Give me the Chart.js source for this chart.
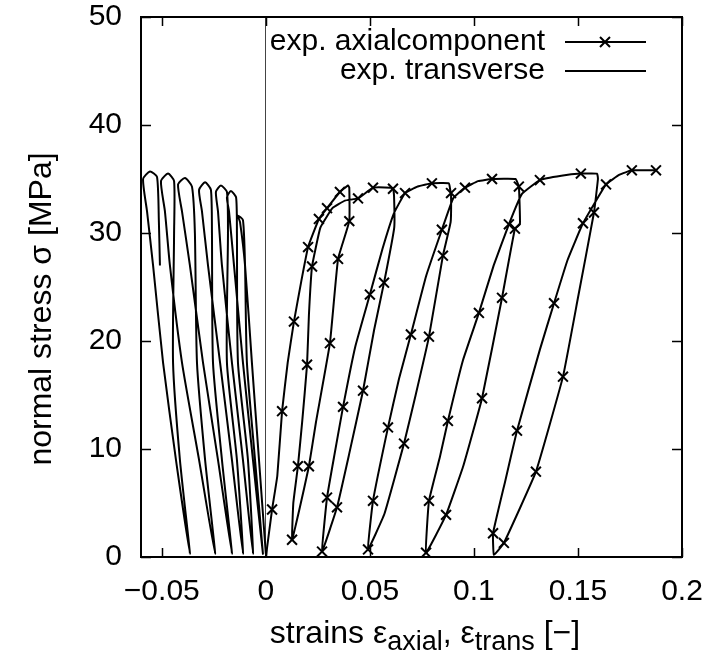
<!DOCTYPE html>
<html>
<head>
<meta charset="utf-8">
<script src="https://cdn.jsdelivr.net/npm/chart.js@4.4.1/dist/chart.umd.min.js"></script>
<style>
  body { margin: 0; background: #fff; }
  #stressChart { display: block; }
</style>
</head>
<body>
<canvas id="stressChart" width="721" height="650"></canvas>
<script>
// axis ticks
const xTicks = [-0.05, 0, 0.05, 0.1, 0.15, 0.2];
const xTickLabels = ['\u22120.05', '0', '0.05', '0.1', '0.15', '0.2'];
const yTicks = [0, 10, 20, 30, 40, 50];
const yTickLabels = ['0', '10', '20', '30', '40', '50'];

// transverse strain loops
const transStrain = [
    0.0000, -0.0033, -0.0067, -0.0100, -0.0124, -0.0134, -0.0110,
    -0.0100, -0.0091, -0.0052, -0.0014,
    -0.0062, -0.0110, -0.0153, -0.0177, -0.0187, -0.0168, -0.0143,
    -0.0139, -0.0134, -0.0086, -0.0062,
    -0.0110, -0.0163, -0.0211, -0.0230, -0.0240, -0.0216, -0.0187,
    -0.0182, -0.0187, -0.0139, -0.0110,
    -0.0163, -0.0220, -0.0278, -0.0307, -0.0321, -0.0292, -0.0264,
    -0.0259, -0.0254, -0.0211, -0.0163,
    -0.0230, -0.0302, -0.0365, -0.0403, -0.0422, -0.0389, -0.0355,
    -0.0341, -0.0331, -0.0292, -0.0244,
    -0.0321, -0.0403, -0.0461, -0.0485, -0.0504, -0.0470, -0.0441,
    -0.0441, -0.0446, -0.0413, -0.0365,
    -0.0432, -0.0494, -0.0542, -0.0571, -0.0590, -0.0557, -0.0523, -0.0514, -0.0509
];
const transStress = [
    0.3, 9.0, 18.0, 27.0, 31.0, 31.6, 31.2,
    27.0, 18.0, 9.0, 0.3,
    9.0, 18.0, 27.0, 32.0, 33.3, 33.9, 33.3,
    30.0, 18.0, 9.0, 0.3,
    9.0, 18.0, 27.0, 32.0, 33.8, 34.4, 33.8,
    30.0, 18.0, 9.0, 0.3,
    9.0, 18.0, 27.0, 32.0, 34.0, 34.7, 34.0,
    30.0, 18.0, 9.0, 0.3,
    9.0, 18.0, 27.0, 32.0, 34.5, 35.1, 34.3,
    30.0, 18.0, 9.0, 0.3,
    9.0, 18.0, 27.0, 32.0, 34.8, 35.5, 34.8,
    30.0, 18.0, 9.0, 0.3,
    9.0, 18.0, 27.0, 32.0, 35.0, 35.7, 35.2, 31.0, 27.0
];

// axial strain, loading / unloading cycles
const axialStrain = [
    0.0000, 0.0030, 0.0055, 0.0078, 0.0105, 0.0135, 0.0170, 0.0203, 0.0255, 0.0294, 0.0356, 0.0395, 0.0401, 0.0401,
    0.0347, 0.0308, 0.0241, 0.0207, 0.0160, 0.0126,
    0.0132, 0.0154, 0.0175, 0.0198, 0.0207, 0.0222, 0.0262, 0.0320, 0.0380, 0.0443, 0.0515, 0.0600, 0.0611, 0.0616, 0.0617,
    0.0568, 0.0520, 0.0467, 0.0400, 0.0342, 0.0270,
    0.0294, 0.0330, 0.0371, 0.0430, 0.0500, 0.0560, 0.0615, 0.0669, 0.0730, 0.0798, 0.0880, 0.0886, 0.0890, 0.0888,
    0.0851, 0.0784, 0.0720, 0.0664, 0.0570, 0.0491,
    0.0515, 0.0587, 0.0640, 0.0697, 0.0770, 0.0846, 0.0900, 0.0957, 0.1020, 0.1087, 0.1200, 0.1216, 0.1221,
    0.1197, 0.1135, 0.1039, 0.0950, 0.0866, 0.0770,
    0.0784, 0.0837, 0.0875, 0.0947, 0.1024, 0.1095, 0.1168, 0.1230, 0.1317, 0.1420, 0.1514, 0.1592, 0.1596, 0.1577,
    0.1500, 0.1428, 0.1298, 0.1144, 0.1096,
    0.1092, 0.1150, 0.1207, 0.1317, 0.1385, 0.1450, 0.1524, 0.1635, 0.1700, 0.1759, 0.1875
];
const axialStress = [
    0.0, 4.4, 7.5, 13.5, 18.0, 21.8, 25.5, 28.7, 31.3, 32.3, 33.8, 34.4, 34.2, 31.1,
    27.6, 19.8, 12.5, 8.4, 4.3, 1.6,
    5.0, 8.4, 12.6, 17.8, 22.4, 26.9, 30.5, 32.3, 33.0, 33.2, 34.2, 34.2, 34.1, 33.5, 30.5,
    25.4, 21.0, 15.4, 9.5, 4.6, 0.5,
    5.5, 9.5, 13.9, 19.5, 24.3, 28.5, 31.8, 33.7, 34.3, 34.6, 34.6, 34.0, 33.7, 31.0,
    27.9, 20.4, 15.0, 10.5, 4.0, 0.7,
    5.2, 12.0, 16.5, 20.6, 26.0, 30.3, 33.2, 34.2, 34.8, 35.0, 35.0, 34.3, 30.8,
    30.4, 24.0, 14.7, 8.5, 3.9, 0.4,
    5.2, 9.3, 12.6, 18.2, 22.6, 27.0, 30.8, 33.6, 34.9, 35.3, 35.5, 35.5, 35.0, 31.9,
    24.0, 16.7, 7.9, 1.3, 0.2,
    2.2, 7.0, 11.7, 19.2, 23.5, 27.5, 30.9, 34.5, 35.4, 35.8, 35.8
];

// points where the axial curve carries a x marker
const markStrain = [
    0.0030, 0.0078, 0.0135, 0.0203, 0.0255, 0.0294, 0.0356, 0.0401,
    0.0347, 0.0308, 0.0207, 0.0126, 0.0154, 0.0198, 0.0222, 0.0443, 0.0515, 0.0611,
    0.0568, 0.0467, 0.0342, 0.0270, 0.0294, 0.0371, 0.0500, 0.0669, 0.0798, 0.0890,
    0.0851, 0.0784, 0.0664, 0.0491, 0.0515, 0.0587, 0.0697, 0.0846, 0.0957, 0.1087, 0.1216,
    0.1197, 0.1135, 0.1039, 0.0866, 0.0770, 0.0784, 0.0875, 0.1024, 0.1168, 0.1317, 0.1514, 0.1577,
    0.1428, 0.1298, 0.1144, 0.1092, 0.1207, 0.1385, 0.1524, 0.1635, 0.1759, 0.1875
];
const markStress = [
    4.4, 13.5, 21.8, 28.7, 31.3, 32.3, 33.8, 31.1,
    27.6, 19.8, 8.4, 1.6, 8.4, 17.8, 26.9, 33.2, 34.2, 34.1,
    25.4, 15.4, 4.6, 0.5, 5.5, 13.9, 24.3, 33.7, 34.6, 33.7,
    27.9, 20.4, 10.5, 0.7, 5.2, 12.0, 20.6, 30.3, 34.2, 35.0, 34.3,
    30.4, 24.0, 14.7, 3.9, 0.4, 5.2, 12.6, 22.6, 30.8, 34.9, 35.5, 31.9,
    16.7, 7.9, 1.3, 2.2, 11.7, 23.5, 30.9, 34.5, 35.8, 35.8
];

const FONT = 'Liberation Sans, Arial, Helvetica, sans-serif';

function toPoints(xs, ys) {
    return xs.map((x, i) => ({ x: x, y: ys[i] }));
}

// frame with inward tick marks, legend and axis titles (gnuplot look)
const gnuplotFrame = {
    id: 'gnuplotFrame',
    afterDraw(chart) {
        const ctx = chart.ctx;
        const a = chart.chartArea;
        const sx = chart.scales.x, sy = chart.scales.y;
        ctx.save();
        ctx.strokeStyle = '#000';
        ctx.lineWidth = 1.5;
        ctx.beginPath();
        xTicks.forEach(v => {
            const px = Math.round(sx.getPixelForValue(v)) + 0.5;
            ctx.moveTo(px, a.bottom); ctx.lineTo(px, a.bottom - 9);
            ctx.moveTo(px, a.top); ctx.lineTo(px, a.top + 9);
        });
        yTicks.forEach(v => {
            const py = Math.round(sy.getPixelForValue(v)) + 0.5;
            ctx.moveTo(a.left, py); ctx.lineTo(a.left + 10, py);
            ctx.moveTo(a.right, py); ctx.lineTo(a.right - 10, py);
        });
        ctx.stroke();
        ctx.lineWidth = 2;
        ctx.strokeRect(a.left, a.top, a.right - a.left, a.bottom - a.top);

        // legend
        ctx.fillStyle = '#000';
        ctx.font = '30px ' + FONT;
        ctx.textAlign = 'right';
        ctx.textBaseline = 'middle';
        ctx.fillText('exp. axialcomponent', 545, 42);
        ctx.fillText('exp. transverse', 545, 71);
        ctx.lineWidth = 2;
        ctx.beginPath();
        ctx.moveTo(565, 42); ctx.lineTo(646, 42);
        ctx.moveTo(565, 71); ctx.lineTo(646, 71);
        ctx.moveTo(600, 37); ctx.lineTo(610, 47);
        ctx.moveTo(600, 47); ctx.lineTo(610, 37);
        ctx.stroke();

        // y title
        ctx.save();
        ctx.translate(42, 309);
        ctx.rotate(-Math.PI / 2);
        ctx.textAlign = 'center';
        ctx.font = '32px ' + FONT;
        ctx.fillText('normal stress \u03c3 [MPa]', 0, 0);
        ctx.restore();

        // x title with subscripts
        const parts = [
            ['strains \u03b5', 32, 0], ['axial', 27, 7], [', \u03b5', 32, 0], ['trans', 27, 7], [' [\u2212]', 32, 0]
        ];
        let total = 0;
        parts.forEach(p => { ctx.font = p[1] + 'px ' + FONT; total += ctx.measureText(p[0]).width; });
        let cx = 425 - total / 2;
        ctx.textAlign = 'left';
        ctx.textBaseline = 'alphabetic';
        parts.forEach(p => {
            ctx.font = p[1] + 'px ' + FONT;
            ctx.fillText(p[0], cx, 643 + p[2]);
            cx += ctx.measureText(p[0]).width;
        });
        ctx.restore();
    }
};

const ctx = document.getElementById('stressChart').getContext('2d');
const stressChart = new Chart(ctx, {
    type: 'scatter',
    data: {
        datasets: [
            {
                label: 'exp. transverse',
                data: toPoints(transStrain, transStress),
                showLine: true,
                borderColor: '#000',
                borderWidth: 2,
                pointRadius: 0,
                tension: 0.2
            },
            {
                label: 'exp. axialcomponent',
                data: toPoints(axialStrain, axialStress),
                showLine: true,
                borderColor: '#000',
                borderWidth: 2,
                pointRadius: 0,
                tension: 0.1
            },
            {
                label: 'markers',
                data: toPoints(markStrain, markStress),
                showLine: false,
                pointStyle: 'crossRot',
                pointRadius: 7,
                borderColor: '#000',
                borderWidth: 2
            }
        ]
    },
    options: {
        responsive: false,
        animation: false,
        layout: { padding: { left: 0, right: 39, top: 17, bottom: 0 } },
        plugins: {
            legend: { display: false },
            tooltip: { enabled: false }
        },
        scales: {
            x: {
                type: 'linear',
                min: -0.06,
                max: 0.2,
                afterBuildTicks: s => { s.ticks = xTicks.map(v => ({ value: v })); },
                afterFit: s => { s.height = 93; },
                border: { display: false },
                grid: {
                    drawTicks: false,
                    lineWidth: 1,
                    color: c => (c.tick && c.tick.value === 0) ? '#444' : 'rgba(0,0,0,0)'
                },
                ticks: {
                    autoSkip: false,
                    maxRotation: 0,
                    padding: 17,
                    color: '#000',
                    font: { family: FONT, size: 30 },
                    callback: (v, i) => xTickLabels[i]
                }
            },
            y: {
                min: 0,
                max: 50,
                afterBuildTicks: s => { s.ticks = yTicks.map(v => ({ value: v })); },
                afterFit: s => { s.width = 141; s.paddingTop = 0; s.paddingBottom = 0; },
                border: { display: false },
                grid: { display: false, drawTicks: false },
                ticks: {
                    padding: 19,
                    color: '#000',
                    font: { family: FONT, size: 30 },
                    callback: (v, i) => yTickLabels[i]
                }
            }
        }
    },
    plugins: [gnuplotFrame]
});
</script>
</body>
</html>
